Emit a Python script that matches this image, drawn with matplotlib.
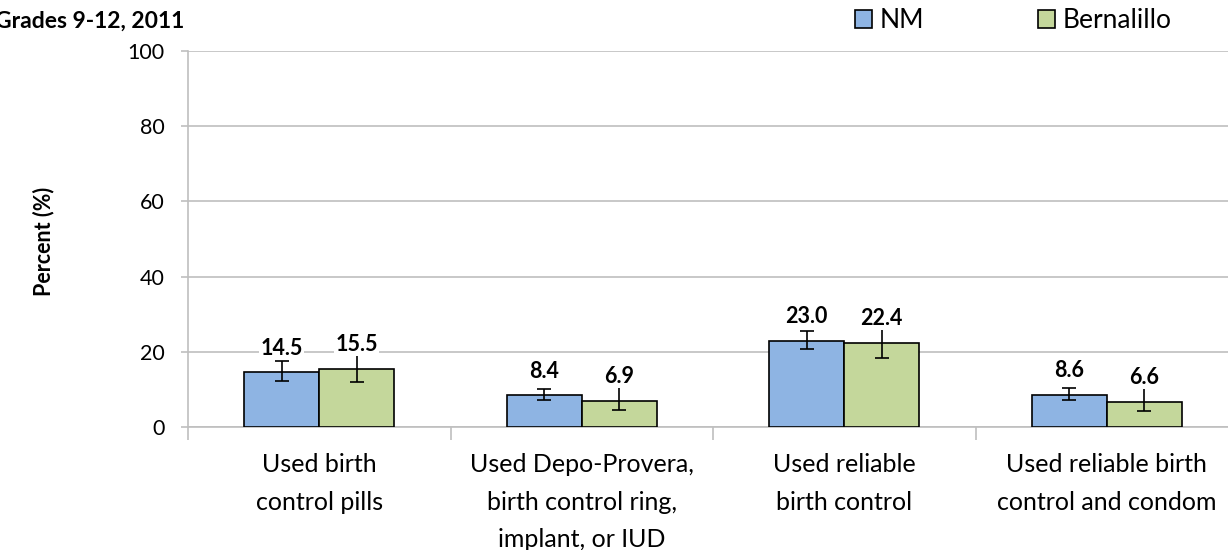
import matplotlib
matplotlib.use("Agg")
import matplotlib.pyplot as plt
import numpy as np

# -------------------------
# data
# -------------------------
categories = [
    "Used birth\ncontrol pills",
    "Used Depo-Provera,\nbirth control ring,\nimplant, or IUD",
    "Used reliable\nbirth control",
    "Used reliable birth\ncontrol and condom",
]
nm_values = [14.5, 8.4, 23.0, 8.6]
nm_low = [12.2, 7.1, 20.7, 7.2]
nm_high = [17.6, 10.1, 25.6, 10.4]

bern_values = [15.5, 6.9, 22.4, 6.6]
bern_low = [12.0, 4.5, 18.4, 4.3]
bern_high = [20.0, 11.1, 26.9, 10.3]

y_ticks = [0, 20, 40, 60, 80, 100]

# -------------------------
# style
# -------------------------
plt.rcParams["font.family"] = ["Lato", "DejaVu Sans"]
NM_COLOR = "#8EB4E3"
BERN_COLOR = "#C4D79B"
GRID = "#BFBFBF"

fig = plt.figure(figsize=(12.28, 5.5), dpi=100)
ax = fig.add_axes([188 / 1228, 123 / 550, 1050 / 1228, 376 / 550])

x = np.arange(len(categories))
w = 0.286

def draw_series(offset, vals, lo, hi, color, label):
    vals = np.array(vals)
    err = [vals - np.array(lo), np.array(hi) - vals]
    bars = ax.bar(x + offset, vals, w, color=color, edgecolor="black",
                  linewidth=1.2, label=label, zorder=3)
    ax.errorbar(x + offset, vals, yerr=err, fmt="none", ecolor="black",
                elinewidth=1.2, capsize=5, capthick=1.2, zorder=4)
    for xi, v in zip(x + offset, vals):
        ax.annotate(f"{v:.1f}", (xi, v), xytext=(0, 10), textcoords="offset points",
                    ha="center", va="bottom", fontsize=15.5, fontweight="bold",
                    zorder=5, bbox=dict(boxstyle="square,pad=0.05", fc="white", ec="none"))
    return bars

draw_series(-w / 2, nm_values, nm_low, nm_high, NM_COLOR, "NM")
draw_series(w / 2, bern_values, bern_low, bern_high, BERN_COLOR, "Bernalillo")

ax.set_ylim(0, 100)
ax.set_xlim(-0.5, 3.5)
ax.set_yticks(y_ticks)
ax.set_yticklabels([str(t) for t in y_ticks], fontsize=15.5)
ax.yaxis.grid(True, color=GRID, linewidth=1.2, zorder=0)
ax.set_axisbelow(True)

# category labels centred, tick marks between groups
ax.set_xticks(x)
ax.set_xticklabels(categories, fontsize=18, linespacing=1.75)
ax.tick_params(axis="x", which="major", length=0, pad=19)
ax.set_xticks(np.arange(-0.5, 4.0, 1.0), minor=True)
ax.tick_params(axis="x", which="minor", length=9, color=GRID, width=1.2)
ax.tick_params(axis="y", length=5, color=GRID, width=1.2, pad=12)

for side in ["top", "right"]:
    ax.spines[side].set_visible(False)
ax.spines["left"].set_color(GRID)
ax.spines["bottom"].set_color(GRID)
ax.spines["left"].set_linewidth(1.2)
ax.spines["bottom"].set_linewidth(1.2)

fig.text(44 / 1228, 1 - 241 / 550, "Percent (%)", fontsize=15.5, fontweight="bold",
         rotation=90, ha="center", va="center")

fig.text(-0.004, 0.962, "Grades 9-12, 2011", fontsize=16.5, fontweight="bold",
         ha="left", va="center")

fig.legend(loc="center", bbox_to_anchor=(0.825, 0.962), ncol=2, frameon=False,
           fontsize=19, handlelength=0.65, handleheight=0.65, handletextpad=0.3,
           columnspacing=4.3)

plt.savefig("out.png", dpi=100)
